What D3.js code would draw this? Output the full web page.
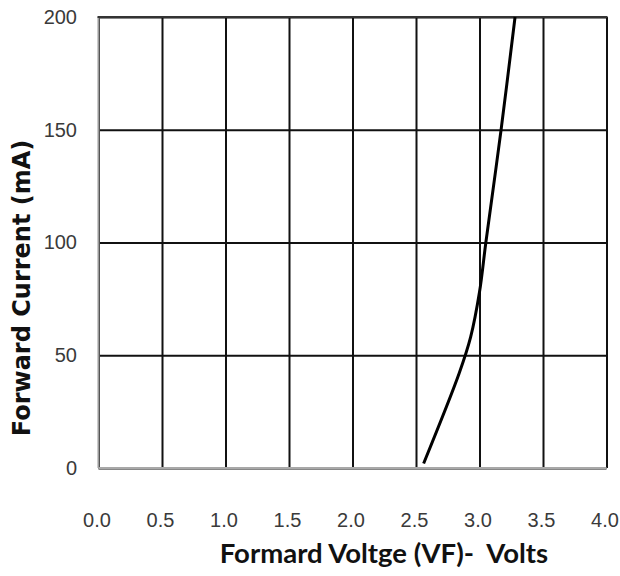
<!DOCTYPE html>
<html>
<head>
<meta charset="utf-8">
<script src="https://cdn.jsdelivr.net/npm/d3@7"></script>
<style>
  body { margin: 0; background: #fff; }
  svg { display: block; }
</style>
</head>
<body>
<div id="chart"></div>
<script>
let W = 620; // width
let H = 576; // height

// chart data
let voltage = [2.56, 2.84, 2.93, 3.00, 3.05, 3.17, 3.28];
let current = [2, 42, 58, 78, 100, 150, 200];
let xTicks = [0, 0.5, 1, 1.5, 2, 2.5, 3, 3.5, 4];
let yTicks = [0, 50, 100, 150, 200];

let svg = d3.select('#chart').append('svg').attr('width', W).attr('height', H);

let xScale = d3.scaleLinear().domain([0, 4]).range([98.5, 606.5]);
let yScale = d3.scaleLinear().domain([0, 200]).range([468, 17]);

let plotH = yScale(0) - yScale(200);
let plotW = xScale(4) - xScale(0);

// x axis: grid lines + labels
let xAxis = svg.append('g').attr('class', 'x-axis')
    .attr('transform', `translate(0, ${yScale(0)})`)
    .call(d3.axisBottom(xScale).tickValues(xTicks).tickFormat(d3.format('.1f'))
        .tickSize(-plotH).tickPadding(45));
xAxis.select('.domain').remove();
xAxis.selectAll('line').attr('stroke', '#111').attr('stroke-width', 2);
xAxis.selectAll('text').attr('dx', -2);

// y axis: grid lines + labels
let yAxis = svg.append('g').attr('class', 'y-axis')
    .attr('transform', `translate(${xScale(0)}, 0)`)
    .call(d3.axisLeft(yScale).tickValues(yTicks).tickSize(-plotW).tickPadding(21.5));
yAxis.select('.domain').remove();
yAxis.selectAll('line').attr('stroke', '#111').attr('stroke-width', 2);

svg.selectAll('.tick text')
    .attr('font-family', 'Liberation Sans, Arial, sans-serif')
    .attr('font-size', 20)
    .attr('fill', '#3a3a3a');

// lighter left and bottom border lines
svg.append('line')
    .attr('x1', xScale(0)).attr('x2', xScale(0))
    .attr('y1', yScale(200)).attr('y2', yScale(0))
    .attr('stroke', '#9a9a9a').attr('stroke-width', 2);
svg.append('line')
    .attr('x1', xScale(0)).attr('x2', xScale(4))
    .attr('y1', yScale(0)).attr('y2', yScale(0))
    .attr('stroke', '#a8a8a8').attr('stroke-width', 2);
svg.append('line')
    .attr('x1', xScale(0) - 1).attr('x2', xScale(4) + 1)
    .attr('y1', yScale(200)).attr('y2', yScale(200))
    .attr('stroke', '#333').attr('stroke-width', 2);

// the forward current curve
let points = voltage.map((v, i) => [v, current[i]]);
let line = d3.line()
    .x(d => xScale(d[0]))
    .y(d => yScale(d[1]))
    .curve(d3.curveCatmullRom.alpha(0.5));

svg.append('path')
    .datum(points)
    .attr('d', line)
    .attr('fill', 'none')
    .attr('stroke', '#000')
    .attr('stroke-width', 3);

// axis titles
svg.append('text')
    .text('Formard Voltge (VF)-  Volts')
    .style('white-space', 'pre')
    .attr('x', 384).attr('y', 563)
    .attr('text-anchor', 'middle')
    .attr('font-family', 'Lato, sans-serif')
    .attr('font-size', 27.5)
    .attr('font-weight', 'bold')
    .attr('fill', '#111');

svg.append('text')
    .text('Forward Current (mA)')
    .attr('transform', `translate(30, ${(133 + 443) / 2}) rotate(-90)`)
    .attr('text-anchor', 'middle')
    .attr('font-family', 'DejaVu Sans, sans-serif')
    .attr('font-size', 24)
    .attr('font-weight', 'bold')
    .attr('fill', '#111');
</script>
</body>
</html>
